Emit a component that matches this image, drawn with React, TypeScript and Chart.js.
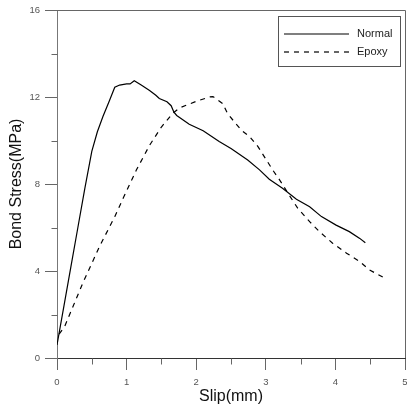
import React, { useEffect, useRef } from "react";
import { Chart, registerables } from "chart.js";

Chart.register(...registerables);

// ---- Data ----
const seriesNames = ["Normal", "Epoxy"];

const normalSlip = [0, 0.1, 0.2, 0.3, 0.4, 0.5, 0.58, 0.66, 0.75, 0.83, 0.9, 1.0, 1.05, 1.11, 1.21, 1.33, 1.42, 1.47, 1.58, 1.64, 1.68, 1.72, 1.9, 2.1, 2.33, 2.5, 2.74, 2.91, 3.05, 3.24, 3.44, 3.63, 3.8, 4.01, 4.2, 4.35, 4.43];
const normalStress = [0.6, 2.4, 4.2, 6.0, 7.8, 9.5, 10.4, 11.1, 11.8, 12.45, 12.55, 12.6, 12.6, 12.75, 12.55, 12.3, 12.08, 11.93, 11.78, 11.6, 11.3, 11.15, 10.75, 10.45, 9.95, 9.63, 9.1, 8.65, 8.22, 7.8, 7.3, 6.95, 6.5, 6.11, 5.81, 5.5, 5.3];

const epoxySlip = [0.03, 0.11, 0.37, 0.61, 0.83, 0.95, 1.14, 1.33, 1.5, 1.66, 1.76, 2.0, 2.19, 2.24, 2.38, 2.45, 2.55, 2.65, 2.77, 2.89, 2.98, 3.1, 3.2, 3.32, 3.46, 3.63, 3.77, 3.96, 4.16, 4.35, 4.49, 4.68];
const epoxyStress = [1.1, 1.45, 3.44, 5.12, 6.5, 7.34, 8.64, 9.78, 10.62, 11.24, 11.5, 11.8, 12.0, 12.02, 11.7, 11.24, 10.85, 10.47, 10.17, 9.71, 9.25, 8.64, 8.18, 7.57, 6.88, 6.27, 5.81, 5.28, 4.82, 4.43, 4.05, 3.72];

const xTickValues = [0, 1, 2, 3, 4, 5];
const yTickValues = [0, 4, 8, 12, 16];
const xMinorTicks = [0.5, 1.5, 2.5, 3.5, 4.5];
const yMinorTicks = [2, 6, 10, 14];

const xTitle = "Slip(mm)";
const yTitle = "Bond Stress(MPa)";

const FONT = "'Liberation Sans', Arial, sans-serif";

const framePlugin = {
  id: "frameAndLegend",
  afterDraw(chart: any) {
    const { ctx, chartArea, scales } = chart;
    const xs = scales.x;
    const ys = scales.y;
    ctx.save();
    // top & right frame
    ctx.lineWidth = 1;
    ctx.strokeStyle = "#666";
    ctx.beginPath();
    ctx.moveTo(chartArea.left, chartArea.top + 0.5);
    ctx.lineTo(chartArea.right + 0.5, chartArea.top + 0.5);
    ctx.lineTo(chartArea.right + 0.5, chartArea.bottom);
    ctx.stroke();
    // minor ticks
    ctx.strokeStyle = "#666";
    ctx.beginPath();
    const bottom = Math.round(chartArea.bottom) + 0.5;
    xMinorTicks.forEach((v) => {
      const px = Math.round(xs.getPixelForValue(v)) + 0.5;
      ctx.moveTo(px, bottom);
      ctx.lineTo(px, bottom + 6);
    });
    const left = Math.round(chartArea.left) + 0.5;
    yMinorTicks.forEach((v) => {
      const py = Math.round(ys.getPixelForValue(v)) + 0.5;
      ctx.moveTo(left, py);
      ctx.lineTo(left - 6, py);
    });
    ctx.stroke();

    // legend
    const bx = 278.5, by = 16.5, bw = 122, bh = 50;
    ctx.fillStyle = "#fff";
    ctx.fillRect(bx, by, bw, bh);
    ctx.strokeStyle = "#555";
    ctx.lineWidth = 1;
    ctx.strokeRect(bx, by, bw, bh);
    const rows = [34, 52];
    const dashes = [[], [5, 5]];
    ctx.font = `11px ${FONT}`;
    ctx.textBaseline = "middle";
    ctx.textAlign = "left";
    seriesNames.forEach((name, i) => {
      ctx.strokeStyle = "#000";
      ctx.lineWidth = 1.2;
      ctx.setLineDash(dashes[i]);
      ctx.beginPath();
      ctx.moveTo(284, rows[i]);
      ctx.lineTo(349, rows[i]);
      ctx.stroke();
      ctx.setLineDash([]);
      ctx.fillStyle = "#222";
      ctx.fillText(name, 357, rows[i]);
    });
    ctx.restore();
  },
};

export default function App() {
  const canvasRef = useRef<HTMLCanvasElement | null>(null);

  useEffect(() => {
    document.body.style.margin = "0";
    const canvas = canvasRef.current;
    if (!canvas) return;
    const toPts = (xsArr: number[], ysArr: number[]) => xsArr.map((x, i) => ({ x, y: ysArr[i] }));
    const chart = new Chart(canvas, {
      type: "line",
      data: {
        datasets: [
          {
            label: seriesNames[0],
            data: toPts(normalSlip, normalStress),
            borderColor: "#000",
            borderWidth: 1.2,
            pointRadius: 0,
            tension: 0,
            fill: false,
          },
          {
            label: seriesNames[1],
            data: toPts(epoxySlip, epoxyStress),
            borderColor: "#000",
            borderWidth: 1.2,
            borderDash: [5, 5],
            pointRadius: 0,
            tension: 0,
            fill: false,
          },
        ],
      },
      options: {
        responsive: false,
        animation: false,
        devicePixelRatio: 1,
        layout: { padding: { left: 0, top: 10, right: 2, bottom: 0 } },
        plugins: {
          legend: { display: false },
          tooltip: { enabled: false },
        },
        scales: {
          x: {
            type: "linear",
            min: 0,
            max: 5,
            afterBuildTicks: (scale: any) => {
              scale.ticks = xTickValues.map((v) => ({ value: v }));
            },
            ticks: {
              font: { family: FONT, size: 9.5 },
              color: "#555",
              padding: 7,
              maxRotation: 0,
              callback: (v: any) => String(v),
            },
            grid: {
              drawOnChartArea: false,
              drawTicks: true,
              tickLength: 12,
              tickColor: "#666",
            },
            border: { display: true, color: "#333", width: 1 },
            title: {
              display: true,
              text: xTitle,
              font: { family: FONT, size: 16 },
              color: "#111",
              padding: { top: 0, bottom: 4 },
            },
            afterFit: (scale: any) => {
              scale.height = 52;
              scale.paddingLeft = 0;
              scale.paddingRight = 0;
            },
          },
          y: {
            type: "linear",
            min: 0,
            max: 16,
            afterBuildTicks: (scale: any) => {
              scale.ticks = yTickValues.map((v) => ({ value: v }));
            },
            ticks: {
              font: { family: FONT, size: 9.5 },
              color: "#555",
              padding: 5,
              callback: (v: any) => String(v),
            },
            grid: {
              drawOnChartArea: false,
              drawTicks: true,
              tickLength: 12,
              tickColor: "#666",
            },
            border: { display: true, color: "#777", width: 1 },
            title: {
              display: true,
              text: yTitle,
              font: { family: FONT, size: 16 },
              color: "#111",
              padding: { top: 7, bottom: 0 },
            },
            afterFit: (scale: any) => {
              scale.width = 57;
              scale.paddingTop = 0;
              scale.paddingBottom = 0;
            },
          },
        },
      },
      plugins: [framePlugin],
    });
    return () => chart.destroy();
  }, []);

  return (
    <div style={{ position: "fixed", left: 0, top: 0, width: 407, height: 410, background: "#fff" }}>
      <canvas ref={canvasRef} width={407} height={410} />
    </div>
  );
}
